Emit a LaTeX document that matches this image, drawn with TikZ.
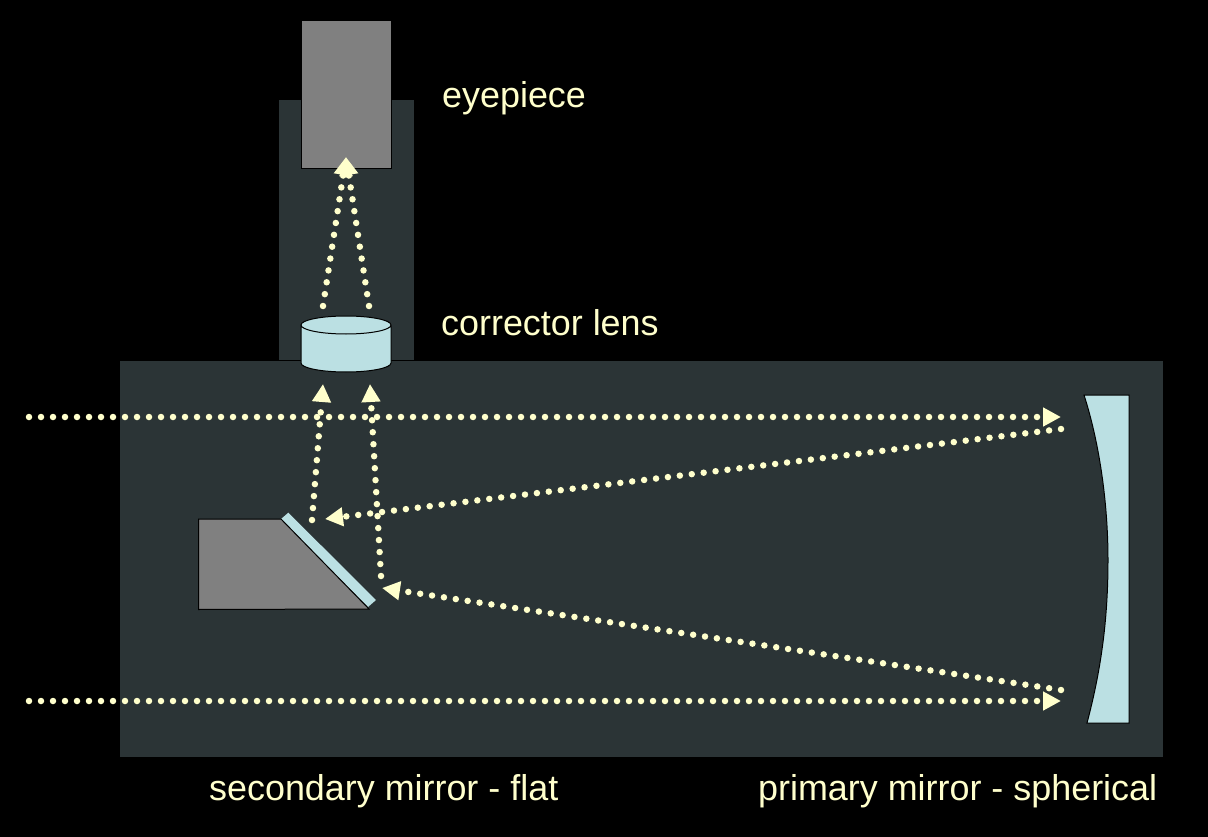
\documentclass[tikz,border=0pt]{standalone}
\usepackage{amsmath}
\usepackage{fontspec}
\setmainfont{Liberation Sans}
\usetikzlibrary{arrows.meta}
\definecolor{tube}{HTML}{2B3436}
\definecolor{glass}{HTML}{BBE0E3}
\definecolor{ray}{HTML}{FFFFCC}
\tikzset{
  body/.style={draw=black,fill=tube,line width=1pt},
  solid part/.style={draw=black,fill=black!50,line width=1pt},
  glass part/.style={draw=black,fill=glass,line width=1pt},
  lightray/.style={draw=ray,line width=6.5pt,line cap=round,dash pattern=on 0pt off 12pt,
    -{Triangle[length=18pt,width=18pt,fill=ray,color=ray]}},
  caption/.style={text=ray,font=\fontsize{35.9}{40}\selectfont,anchor=base west,inner sep=0pt}
}
\begin{document}
\begin{tikzpicture}[x=1pt,y=-1pt]
      \useasboundingbox[fill=black] (0,0) rectangle (1208,837);
      \path[body] (278.5,99.5) rectangle (414.5,361);
      \path[body] (119.5,360.5) rectangle (1163.5,757.5);
      \path[solid part] (301.5,20.5) rectangle (391.5,168.5);
      \path[fill=glass] (288.3,512.7) -- (280.7,519.3) -- (368,607) -- (376,600) -- cycle;
      \path[solid part] (198.5,519) -- (281,519) -- (369,609) -- (198.5,609.5) -- cycle;
      \path[glass part] (301,325) -- (301,363) arc[start angle=180,end angle=360,x radius=45,y radius=-9] -- (391,325) arc[start angle=0,end angle=360,x radius=45,y radius=-9];
      \path[glass part] (1084,395) .. controls (1100,445) and (1108,505) .. (1108,560)
        .. controls (1108,620) and (1101,670) .. (1087,723) -- (1129,723) -- (1129,395) -- cycle;
      \foreach \pos/\name in { {(29,417)/inA}, {(1061,417)/mirrorA}, {(1061,429)/backA}, {(325,519)/flatA},
        {(29,701)/inB}, {(1061,701)/mirrorB}, {(1061,690)/backB}, {(382,588)/flatB},
        {(312,520)/upA}, {(323,384)/lensA}, {(381,576)/upB}, {(370,384)/lensB},
        {(323,306)/outA}, {(369,306)/outB}, {(346,157)/focus}}
      \node[coordinate] (\name) at \pos {};
      \foreach \start/\dest in {inA/mirrorA, backA/flatA, inB/mirrorB, backB/flatB, upA/lensA, upB/lensB, outA/focus, outB/focus}
      \path[lightray] (\start) -- (\dest);
      \foreach \pos/\name/\txt in { {(442,108)/eyepiece/eyepiece}, {(441,335)/corrector/corrector lens},
        {(209,800)/secondary/secondary mirror - flat}, {(758,800)/primary/primary mirror - spherical}}
      \node[caption] (\name) at \pos {\txt};
    \end{tikzpicture}
\end{document}
